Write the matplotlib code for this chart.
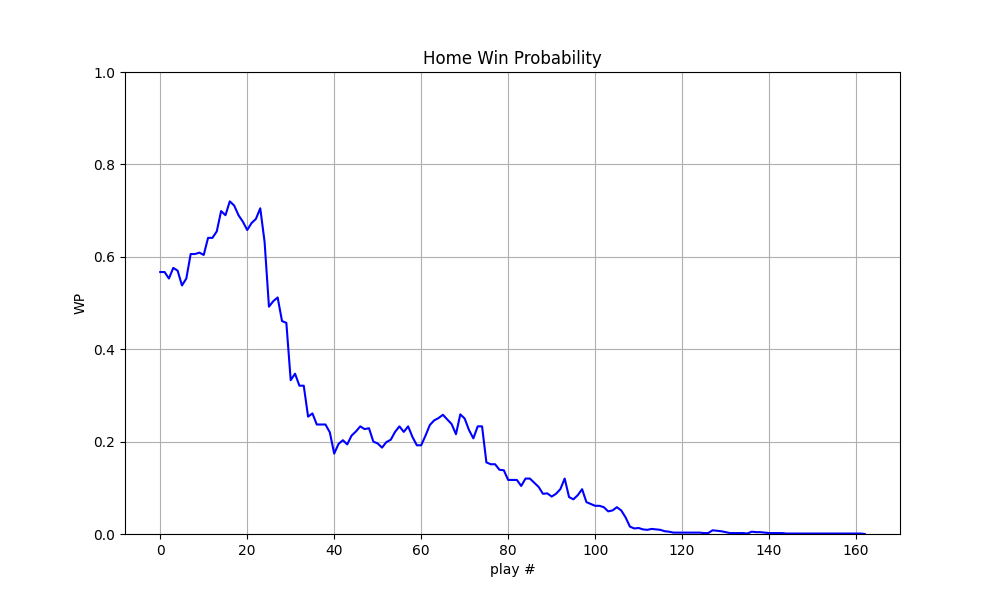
import matplotlib
matplotlib.use("Agg")
import matplotlib.pyplot as plt

wp = [0.567, 0.567, 0.553, 0.576, 0.570, 0.538, 0.553, 0.606, 0.606, 0.609,
      0.604, 0.641, 0.641, 0.655, 0.699, 0.690, 0.720, 0.711, 0.690, 0.676,
      0.658, 0.673, 0.682, 0.705, 0.632, 0.492, 0.504, 0.512, 0.461, 0.457,
      0.333, 0.347, 0.321, 0.321, 0.254, 0.261, 0.237, 0.237, 0.237, 0.220,
      0.174, 0.195, 0.203, 0.194, 0.213, 0.222, 0.233, 0.227, 0.229, 0.200,
      0.196, 0.187, 0.199, 0.204, 0.221, 0.233, 0.221, 0.233, 0.210, 0.192,
      0.192, 0.213, 0.236, 0.246, 0.251, 0.258, 0.248, 0.238, 0.216, 0.259,
      0.250, 0.225, 0.207, 0.233, 0.233, 0.155, 0.151, 0.151, 0.139, 0.138,
      0.117, 0.117, 0.117, 0.104, 0.120, 0.120, 0.111, 0.102, 0.087, 0.088,
      0.081, 0.087, 0.097, 0.120, 0.080, 0.075, 0.084, 0.097, 0.069, 0.065,
      0.061, 0.061, 0.058, 0.049, 0.051, 0.058, 0.051, 0.036, 0.016, 0.012,
      0.013, 0.010, 0.009, 0.011, 0.010, 0.009, 0.006, 0.005, 0.003, 0.003,
      0.003, 0.003, 0.003, 0.003, 0.003, 0.002, 0.002, 0.008, 0.007, 0.006,
      0.004, 0.002, 0.002, 0.002, 0.002, 0.001, 0.005, 0.004, 0.004, 0.003,
      0.002, 0.002, 0.002, 0.002, 0.001, 0.001, 0.001, 0.001, 0.001, 0.001,
      0.001, 0.001, 0.001, 0.001, 0.001, 0.001, 0.001, 0.001, 0.001, 0.001,
      0.001, 0.001, 0.000]
plays = list(range(len(wp)))

plt.figure(figsize=(10, 6), dpi=100)
plt.plot(plays, wp, color="blue")
plt.ylim(0, 1)
plt.grid(True)
plt.title("Home Win Probability")
plt.xlabel("play #")
plt.ylabel("WP")
plt.savefig("out.png")
